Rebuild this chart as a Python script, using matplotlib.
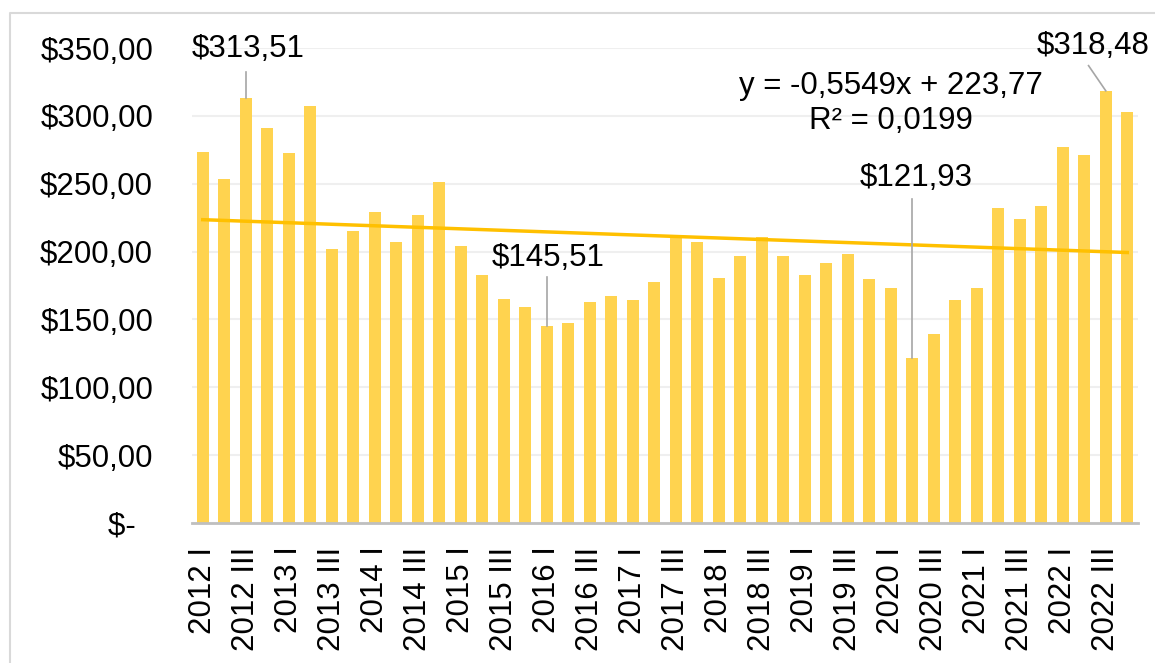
import matplotlib
matplotlib.use("Agg")
import matplotlib.pyplot as plt
from matplotlib.lines import Line2D
import numpy as np

plt.rcParams['font.family'] = ['Liberation Sans', 'DejaVu Sans']

# quarterly values, 2012 I .. 2022 IV
years = list(range(2012, 2023))
quarters = ["I", "II", "III", "IV"]
categories = [f"{y} {q}" for y in years for q in quarters]

values = [273.5, 253.3, 313.51, 291.2, 272.3, 307.0,
          201.6, 214.9, 228.9, 207.3, 226.7, 251.1,
          203.8, 182.4, 165.2, 159.0, 145.51, 147.5,
          162.5, 167.4, 164.5, 177.3, 210.3, 207.0,
          180.2, 197.0, 210.7, 197.0, 182.7, 191.8,
          198.4, 179.5, 173.3, 121.93, 139.6, 164.2,
          172.8, 232.4, 223.8, 233.4, 276.7, 271.5,
          318.48, 302.8]

y_ticks = [0, 50, 100, 150, 200, 250, 300, 350]
y_labels = ["$-  ", "$50,00", "$100,00", "$150,00", "$200,00",
            "$250,00", "$300,00", "$350,00"]

eq_line1 = "y = -0,5549x + 223,77"
eq_line2 = "R² = 0,0199"

# callouts: (bar index, label, text x, text y, line start x, line start y)
callouts = [
    (2, "$313,51", 2.09, 349.0, 2.0, 332.0),
    (16, "$145,51", 16.05, 195.5, 16.0, 181.0),
    (33, "$121,93", 33.2, 254.5, 33.0, 239.0),
    (42, "$318,48", 41.4, 351.5, 41.2, 337.0),
]

bar_color = "#FFD34F"
trend_color = "#FFC000"
fs = 22.5

fig = plt.figure(figsize=(11.55, 6.63), dpi=100)
ax = fig.add_axes([192 / 1155, 1 - 523 / 663, 946 / 1155, 475 / 663])

x = np.arange(len(values))
ax.bar(x, values, width=0.57, color=bar_color, zorder=2)

# linear trend (x counted from 1 like the spreadsheet)
k, b = np.polyfit(x + 1, values, 1)
ax.plot(x, k * (x + 1) + b, color=trend_color, lw=2.5, zorder=3)

ax.set_xlim(-0.5, len(values) - 0.5)
ax.set_ylim(0, 350)
ax.set_yticks(y_ticks)
ax.set_yticklabels(y_labels, fontsize=fs)
ax.set_xticks(x[::2])
ax.set_xticklabels(categories[::2], rotation=90, fontsize=fs)
ax.tick_params(axis='y', length=0, pad=28)
ax.tick_params(axis='x', length=0, pad=17)

ax.grid(axis='y', color="#EFEFEF", lw=1.5, zorder=0)
for s in ["top", "right", "left"]:
    ax.spines[s].set_visible(False)
ax.spines["bottom"].set_color("#BFBFBF")
ax.spines["bottom"].set_linewidth(2)
ax.spines["bottom"].set_zorder(4)

for i, lab, tx, ty, lx, ly in callouts:
    ax.plot([lx, i], [ly, values[i]], color="#A6A6A6", lw=1.2, zorder=4, clip_on=False)
    ax.text(tx, ty, lab, fontsize=fs, ha="center", va="center", zorder=5, clip_on=False)

ax.text(32.0, 322, eq_line1, fontsize=fs, ha="center", va="center", zorder=5)
ax.text(32.0, 296, eq_line2, fontsize=fs, ha="center", va="center", zorder=5)

# chart frame: only left and top edges show in the crop
fx, fy = 9.5 / 1155, 1 - 12.5 / 663
fig.lines.append(Line2D([fx, fx, 1], [0, fy, fy], transform=fig.transFigure,
                        color="#D9D9D9", lw=1.5))

fig.savefig("out.png", dpi=100)
